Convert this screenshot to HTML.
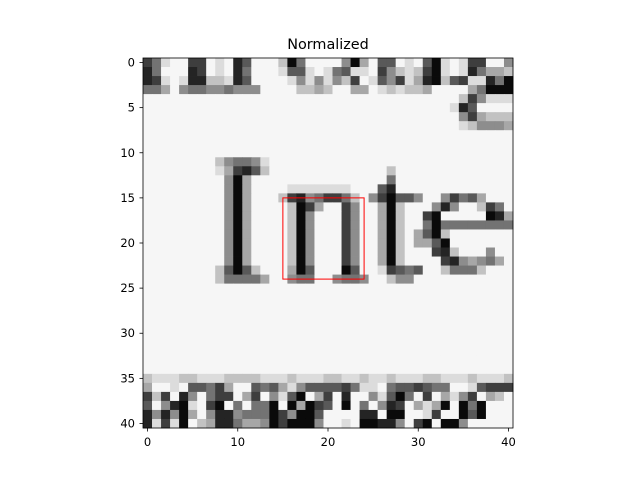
<!DOCTYPE html>
<html><head><meta charset="utf-8"><style>
html,body{margin:0;padding:0;background:#fff;}
svg text{font-family:"DejaVu Sans","Liberation Sans",sans-serif;fill:#000;}
</style></head><body>
<svg id="chart" width="640" height="480" xmlns="http://www.w3.org/2000/svg">
<text x="328" y="49" font-size="14.4" text-anchor="middle">Normalized</text>
<g id="cells"></g>
<g id="overlay"></g>
<g id="axes"></g>
</svg>
<script>
const rows = [
"24899229891399970499995069339893089822995",
"14999129891499983389843889257872089814667",
"12898117781399998585857298352861073288140",
"44695445545559999776799669878776999964000",
"99999999999999999999999999999999999725888",
"99999999999999999999999999999999998139999",
"99999999999999999999999999999999999526777",
"99999999999999999999999999999999999875556",
"99999999999999999999999999999999999999999",
"99999999999999999999999999999999999999999",
"99999999999999999999999999999999999999999",
"9999999975"+"4458999999"+"9999999999"+"9999999999"+"9",
"9999999986"+"2137999999"+"9999999799"+"9999999999"+"9",
"9999999995"+"0699999999"+"9999999499"+"9999999999"+"9",
"9999999995"+"0699998888"+"8889993199"+"9999999999"+"9",
"9999999995"+"0699972154"+"2247952033"+"5995243699"+"9",
"9999999995"+"0699997026"+"9925996079"+"9951599724"+"9",
"9999999995"+"0699997059"+"9925996079"+"9209999901"+"6",
"9999999995"+"0699997059"+"9925996079"+"9404444444"+"4",
"9999999995"+"0699997059"+"9925996079"+"6307999999"+"9",
"9999999995"+"0699997059"+"9925996079"+"6630999999"+"9",
"9999999995"+"0699997059"+"9925996079"+"9921799959"+"9",
"9999999995"+"0699997059"+"9925996079"+"9992156546"+"9",
"9999999973"+"0379996039"+"9903998234"+"3997444799"+"9",
"9999999974"+"4446995449"+"9544599755"+"9999999999"+"9",
"99999999999999999999999999999999999999999",
"99999999999999999999999999999999999999999",
"99999999999999999999999999999999999999999",
"99999999999999999999999999999999999999999",
"99999999999999999999999999999999999999999",
"99999999999999999999999999999999999999999",
"99999999999999999999999999999999999999999",
"99999999999999999999999999999999999999999",
"99999999999999999999999999999999999999999",
"99999999999999999999999999999999999999999",
"78887788877778887888778878878887788878887",
"69989334269934368533332488943323449983222",
"27291594229629583096291995830492968529679",
"39510892094944090602390949512968609040999",
"15150695115444025003999911900998299030999",
"18280976114665020005998900115920900599999"
];
const xTicks = [0,10,20,30,40];
const yTicks = [0,5,10,15,20,25,30,35,40];
const boxX = [15,24];
const boxY = [15,24];
const N = 41, X0 = 143, Y0 = 58, S = 370/41;
function sx(v){return X0+(v+0.5)*S;}
function sy(v){return Y0+(v+0.5)*S;}
const NS="http://www.w3.org/2000/svg";
const cells=document.getElementById('cells');
for(let r=0;r<N;r++){
  const row=(rows[r]+"99999999999999999999999999999999999999999").slice(0,N);
  for(let c=0;c<N;c++){
    const lv=+row[c];
    const g=Math.round(10+lv*(246-10)/9);
    const el=document.createElementNS(NS,'rect');
    el.setAttribute('x',(sx(c)-S/2).toFixed(2));
    el.setAttribute('y',(sy(r)-S/2).toFixed(2));
    el.setAttribute('width',(S+0.4).toFixed(2));
    el.setAttribute('height',(S+0.4).toFixed(2));
    el.setAttribute('fill','rgb('+g+','+g+','+g+')');
    
    
    cells.appendChild(el);
  }
}
const ov=document.getElementById('overlay');
const box=document.createElementNS(NS,'rect');
box.setAttribute('x',sx(boxX[0]));
box.setAttribute('y',sy(boxY[0]));
box.setAttribute('width',sx(boxX[1])-sx(boxX[0]));
box.setAttribute('height',sy(boxY[1])-sy(boxY[0]));
box.setAttribute('fill','none');
box.setAttribute('stroke','#ff0000');
box.setAttribute('stroke-width','1');


ov.appendChild(box);
const ax=document.getElementById('axes');
const frame=document.createElementNS(NS,'rect');
frame.setAttribute('x',X0);
frame.setAttribute('y',Y0);
frame.setAttribute('width',370);
frame.setAttribute('height',370);
frame.setAttribute('fill','none');
frame.setAttribute('stroke','#000');
frame.setAttribute('stroke-width','0.8');


ax.appendChild(frame);
xTicks.forEach(function(t){
  const l=document.createElementNS(NS,'line');
  l.setAttribute('x1',sx(t));
  l.setAttribute('x2',sx(t));
  l.setAttribute('y1',428);
  l.setAttribute('y2',431.5);
  l.setAttribute('stroke','#000');
  l.setAttribute('stroke-width','0.8');
  
  
  ax.appendChild(l);
  const tx=document.createElementNS(NS,'text');
  tx.setAttribute('x',sx(t));
  tx.setAttribute('y',446);
  tx.setAttribute('font-size','11.5');
  tx.setAttribute('text-anchor','middle');
  tx.textContent=t;
  
  
  ax.appendChild(tx);
});
yTicks.forEach(function(t){
  const l=document.createElementNS(NS,'line');
  l.setAttribute('x1',139.5);
  l.setAttribute('x2',143);
  l.setAttribute('y1',sy(t));
  l.setAttribute('y2',sy(t));
  l.setAttribute('stroke','#000');
  l.setAttribute('stroke-width','0.8');
  
  
  ax.appendChild(l);
  const tx=document.createElementNS(NS,'text');
  tx.setAttribute('x',135);
  tx.setAttribute('y',sy(t)+4);
  tx.setAttribute('font-size','11.5');
  tx.setAttribute('text-anchor','end');
  tx.textContent=t;
  
  
  ax.appendChild(tx);
});
</script>
</body></html>
